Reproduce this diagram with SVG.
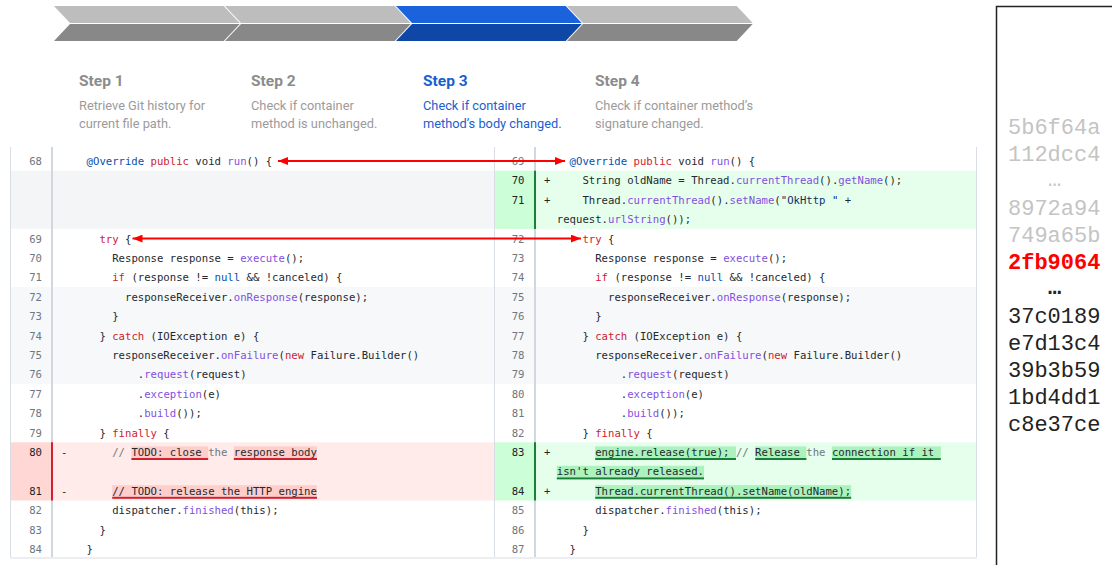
<svg xmlns="http://www.w3.org/2000/svg" width="1112" height="565" viewBox="0 0 1112 565">
<defs>
<marker id="ah" viewBox="0 0 10 8" refX="10" refY="4" markerWidth="10" markerHeight="8" markerUnits="userSpaceOnUse" orient="auto-start-reverse">
<path d="M0,0 L10,4 L0,8 z" fill="#ff0000"/>
</marker>
</defs>
<style>
.mono{font-family:"DejaVu Sans Mono",monospace;font-size:10.63px;fill:#24292f}
.ln{fill:#6e7781;text-anchor:end}
.lnc{fill:#1f2328;text-anchor:end}
.k{fill:#cf222e}.b{fill:#0550ae}.p{fill:#8250df}.s{fill:#0a3069}.c{fill:#6e7781}
.st{font-family:Roboto,"Liberation Sans",sans-serif;font-weight:700;font-size:15.5px;fill:#8c8c8c}
.sd{font-family:Roboto,"Liberation Sans",sans-serif;font-size:12.8px;fill:#9b9b9b}
.on{fill:#1a5fd0}
.gt{fill:#bdbdbd}.gb{fill:#888888}.bt{fill:#1a63dc}.bb{fill:#0e47a6}
.hl-r{fill:#ffcecb}.ul-r{fill:#cf222e}.hl-g{fill:#abf2bc}.ul-g{fill:#1a7f37}
.hash{font-family:"Liberation Mono",monospace;font-size:22px;fill:#222222}
.hg{fill:#c4c4c4}
.hr{fill:#ff0000;font-weight:700}
.arrow{stroke:#ff0000;stroke-width:2;fill:none;marker-start:url(#ah);marker-end:url(#ah)}
</style>
<rect width="1112" height="565" fill="#ffffff"/>

<g id="step1">
<polygon class="gt" points="54,6 223.7,6 239.7,23 70,23"/>
<polygon class="gb" points="70,24 239.7,24 223.7,41 54,41"/>
<text class="st" x="79" y="85.5">Step 1</text>
<text class="sd" x="79" y="109.5">Retrieve Git history for</text>
<text class="sd" x="79" y="127.5">current file path.</text>
</g>
<g id="step2">
<polygon class="gt" points="225,6 394.7,6 410.7,23 241,23"/>
<polygon class="gb" points="241,24 410.7,24 394.7,41 225,41"/>
<text class="st" x="251" y="85.5">Step 2</text>
<text class="sd" x="251" y="109.5">Check if container</text>
<text class="sd" x="251" y="127.5">method is unchanged.</text>
</g>
<g id="step3">
<polygon class="bt" points="396,6 565.7,6 581.7,23 412,23"/>
<polygon class="bb" points="412,24 581.7,24 565.7,41 396,41"/>
<text class="st on" x="423" y="85.5">Step 3</text>
<text class="sd on" x="423" y="109.5">Check if container</text>
<text class="sd on" x="423" y="127.5">method’s body changed.</text>
</g>
<g id="step4">
<polygon class="gt" points="567,6 736.7,6 752.7,23 583,23"/>
<polygon class="gb" points="583,24 752.7,24 736.7,41 567,41"/>
<text class="st" x="595" y="85.5">Step 4</text>
<text class="sd" x="595" y="109.5">Check if container method’s</text>
<text class="sd" x="595" y="127.5">signature changed.</text>
</g>

<g id="diff-backgrounds">
<rect x="10.5" y="170.7" width="483.5" height="58.2" fill="#f4f5f7"/>
<rect x="10.5" y="287.1" width="966" height="97" fill="#f6f8fa"/>
<rect x="10.5" y="442.3" width="41.5" height="58.2" fill="#ffd7d5"/>
<rect x="52" y="442.3" width="442" height="58.2" fill="#ffebe9"/>
<rect x="494.5" y="170.7" width="40.5" height="58.2" fill="#ccffd8"/>
<rect x="535" y="170.7" width="441.5" height="58.2" fill="#e6ffec"/>
<rect x="494.5" y="442.3" width="40.5" height="58.2" fill="#ccffd8"/>
<rect x="535" y="442.3" width="441.5" height="58.2" fill="#e6ffec"/>
<rect x="10" y="557" width="967" height="2" fill="#eceef1"/>
<line x1="10.5" y1="147" x2="10.5" y2="557" stroke="#d8dee4" stroke-width="1"/>
<line x1="52" y1="147" x2="52" y2="557" stroke="#d0d7de" stroke-width="2"/>
<line x1="494.5" y1="147" x2="494.5" y2="557" stroke="#d8dee4" stroke-width="1"/>
<line x1="535" y1="147" x2="535" y2="557" stroke="#d0d7de" stroke-width="2"/>
<line x1="976.5" y1="147" x2="976.5" y2="557" stroke="#d8dee4" stroke-width="1"/>
<line x1="52" y1="442.3" x2="52" y2="500.5" stroke="#cf222e" stroke-width="2"/>
<line x1="535" y1="170.7" x2="535" y2="228.9" stroke="#1a7f37" stroke-width="2"/>
<line x1="535" y1="442.3" x2="535" y2="500.5" stroke="#1a7f37" stroke-width="2"/>
<rect class="hl-r" x="131.4" y="446.4" width="76.8" height="11.6"/><rect class="ul-r" x="131.4" y="458" width="76.8" height="2"/>
<rect class="hl-r" x="233.8" y="446.4" width="83.2" height="11.6"/><rect class="ul-r" x="233.8" y="458" width="83.2" height="2"/>
<rect class="hl-r" x="112.2" y="485.2" width="204.8" height="11.6"/><rect class="ul-r" x="112.2" y="496.8" width="204.8" height="2"/>
<rect class="hl-g" x="595.2" y="446.4" width="140.8" height="11.6"/><rect class="ul-g" x="595.2" y="458" width="140.8" height="2"/>
<rect class="hl-g" x="755.2" y="446.4" width="51.2" height="11.6"/><rect class="ul-g" x="755.2" y="458" width="51.2" height="2"/>
<rect class="hl-g" x="832" y="446.4" width="108.8" height="11.6"/><rect class="ul-g" x="832" y="458" width="108.8" height="2"/>
<rect class="hl-g" x="556.8" y="465.8" width="147.2" height="11.6"/><rect class="ul-g" x="556.8" y="477.4" width="147.2" height="2"/>
<rect class="hl-g" x="595.2" y="485.2" width="256" height="11.6"/><rect class="ul-g" x="595.2" y="496.8" width="256" height="2"/>
</g>

<g id="old-version" class="mono">
<text class="ln" x="42" y="164.9">68</text>
<text class="ln" x="42" y="242.5">69</text>
<text class="ln" x="42" y="261.9">70</text>
<text class="ln" x="42" y="281.3">71</text>
<text class="ln" x="42" y="300.7">72</text>
<text class="ln" x="42" y="320.1">73</text>
<text class="ln" x="42" y="339.5">74</text>
<text class="ln" x="42" y="358.9">75</text>
<text class="ln" x="42" y="378.3">76</text>
<text class="ln" x="42" y="397.7">77</text>
<text class="ln" x="42" y="417.1">78</text>
<text class="ln" x="42" y="436.5">79</text>
<text class="lnc" x="42" y="455.9">80</text>
<text class="lnc" x="42" y="494.7">81</text>
<text class="ln" x="42" y="514.1">82</text>
<text class="ln" x="42" y="533.5">83</text>
<text class="ln" x="42" y="552.9">84</text>
<text x="86.6" y="164.9"><tspan class="b">@Override</tspan> <tspan class="k">public</tspan> void <tspan class="p">run</tspan>() {</text>
<text x="99.4" y="242.5"><tspan class="k">try</tspan> {</text>
<text x="112.2" y="261.9">Response response = <tspan class="p">execute</tspan>();</text>
<text x="112.2" y="281.3"><tspan class="k">if</tspan> (response != <tspan class="b">null</tspan> &amp;&amp; !canceled) {</text>
<text x="125" y="300.7">responseReceiver.<tspan class="p">onResponse</tspan>(response);</text>
<text x="112.2" y="320.1">}</text>
<text x="99.4" y="339.5">} <tspan class="k">catch</tspan> (IOException e) {</text>
<text x="112.2" y="358.9">responseReceiver.<tspan class="p">onFailure</tspan>(<tspan class="k">new</tspan> Failure.Builder()</text>
<text x="137.8" y="378.3">.<tspan class="p">request</tspan>(request)</text>
<text x="137.8" y="397.7">.<tspan class="p">exception</tspan>(e)</text>
<text x="137.8" y="417.1">.<tspan class="p">build</tspan>());</text>
<text x="99.4" y="436.5">} <tspan class="k">finally</tspan> {</text>
<text x="61" y="455.9">-</text>
<text x="112.2" y="455.9"><tspan class="c">//</tspan> TODO: close <tspan class="c">the</tspan> response body</text>
<text x="61" y="494.7">-</text>
<text x="112.2" y="494.7">// TODO: release the HTTP engine</text>
<text x="112.2" y="514.1">dispatcher.<tspan class="p">finished</tspan>(this);</text>
<text x="99.4" y="533.5">}</text>
<text x="86.6" y="552.9">}</text>
</g>

<g id="new-version" class="mono">
<text class="ln" x="524.5" y="164.9">69</text>
<text class="lnc" x="524.5" y="184.3">70</text>
<text class="lnc" x="524.5" y="203.7">71</text>
<text class="ln" x="524.5" y="242.5">72</text>
<text class="ln" x="524.5" y="261.9">73</text>
<text class="ln" x="524.5" y="281.3">74</text>
<text class="ln" x="524.5" y="300.7">75</text>
<text class="ln" x="524.5" y="320.1">76</text>
<text class="ln" x="524.5" y="339.5">77</text>
<text class="ln" x="524.5" y="358.9">78</text>
<text class="ln" x="524.5" y="378.3">79</text>
<text class="ln" x="524.5" y="397.7">80</text>
<text class="ln" x="524.5" y="417.1">81</text>
<text class="ln" x="524.5" y="436.5">82</text>
<text class="lnc" x="524.5" y="455.9">83</text>
<text class="lnc" x="524.5" y="494.7">84</text>
<text class="ln" x="524.5" y="514.1">85</text>
<text class="ln" x="524.5" y="533.5">86</text>
<text class="ln" x="524.5" y="552.9">87</text>
<text x="569.6" y="164.9"><tspan class="b">@Override</tspan> <tspan class="k">public</tspan> void <tspan class="p">run</tspan>() {</text>
<text x="544" y="184.3">+</text>
<text x="582.4" y="184.3">String oldName = Thread.<tspan class="p">currentThread</tspan>().<tspan class="p">getName</tspan>();</text>
<text x="544" y="203.7">+</text>
<text x="582.4" y="203.7">Thread.<tspan class="p">currentThread</tspan>().<tspan class="p">setName</tspan>(<tspan class="s">"OkHttp "</tspan> +</text>
<text x="556.8" y="223.1">request.<tspan class="p">urlString</tspan>());</text>
<text x="582.4" y="242.5"><tspan class="k">try</tspan> {</text>
<text x="595.2" y="261.9">Response response = <tspan class="p">execute</tspan>();</text>
<text x="595.2" y="281.3"><tspan class="k">if</tspan> (response != <tspan class="b">null</tspan> &amp;&amp; !canceled) {</text>
<text x="608" y="300.7">responseReceiver.<tspan class="p">onResponse</tspan>(response);</text>
<text x="595.2" y="320.1">}</text>
<text x="582.4" y="339.5">} <tspan class="k">catch</tspan> (IOException e) {</text>
<text x="595.2" y="358.9">responseReceiver.<tspan class="p">onFailure</tspan>(<tspan class="k">new</tspan> Failure.Builder()</text>
<text x="620.8" y="378.3">.<tspan class="p">request</tspan>(request)</text>
<text x="620.8" y="397.7">.<tspan class="p">exception</tspan>(e)</text>
<text x="620.8" y="417.1">.<tspan class="p">build</tspan>());</text>
<text x="582.4" y="436.5">} <tspan class="k">finally</tspan> {</text>
<text x="544" y="455.9">+</text>
<text x="595.2" y="455.9">engine.release(true); <tspan class="c">//</tspan> Release <tspan class="c">the</tspan> connection if it</text>
<text x="556.8" y="475.3">isn't already released.</text>
<text x="544" y="494.7">+</text>
<text x="595.2" y="494.7">Thread.currentThread().setName(oldName);</text>
<text x="595.2" y="514.1">dispatcher.<tspan class="p">finished</tspan>(this);</text>
<text x="582.4" y="533.5">}</text>
<text x="569.6" y="552.9">}</text>
</g>

<g id="connectors">
<line class="arrow" x1="278" y1="161" x2="565" y2="161"/>
<line class="arrow" x1="132.5" y1="238.6" x2="581" y2="238.6"/>
</g>

<g id="commit-list">
<rect x="996.5" y="6.5" width="200" height="600" fill="#ffffff" stroke="#222222" stroke-width="1.5"/>
<text class="hash hg" x="1008" y="134">5b6f64a</text>
<text class="hash hg" x="1008" y="161">112dcc4</text>
<text class="hash hg" x="1048" y="186">…</text>
<text class="hash hg" x="1008" y="215">8972a94</text>
<text class="hash hg" x="1008" y="242">749a65b</text>
<text class="hash hr" x="1008" y="269">2fb9064</text>
<text class="hash" x="1048" y="294" font-weight="700">…</text>
<text class="hash" x="1008" y="323">37c0189</text>
<text class="hash" x="1008" y="350">e7d13c4</text>
<text class="hash" x="1008" y="377">39b3b59</text>
<text class="hash" x="1008" y="404">1bd4dd1</text>
<text class="hash" x="1008" y="431">c8e37ce</text>
</g>
</svg>
